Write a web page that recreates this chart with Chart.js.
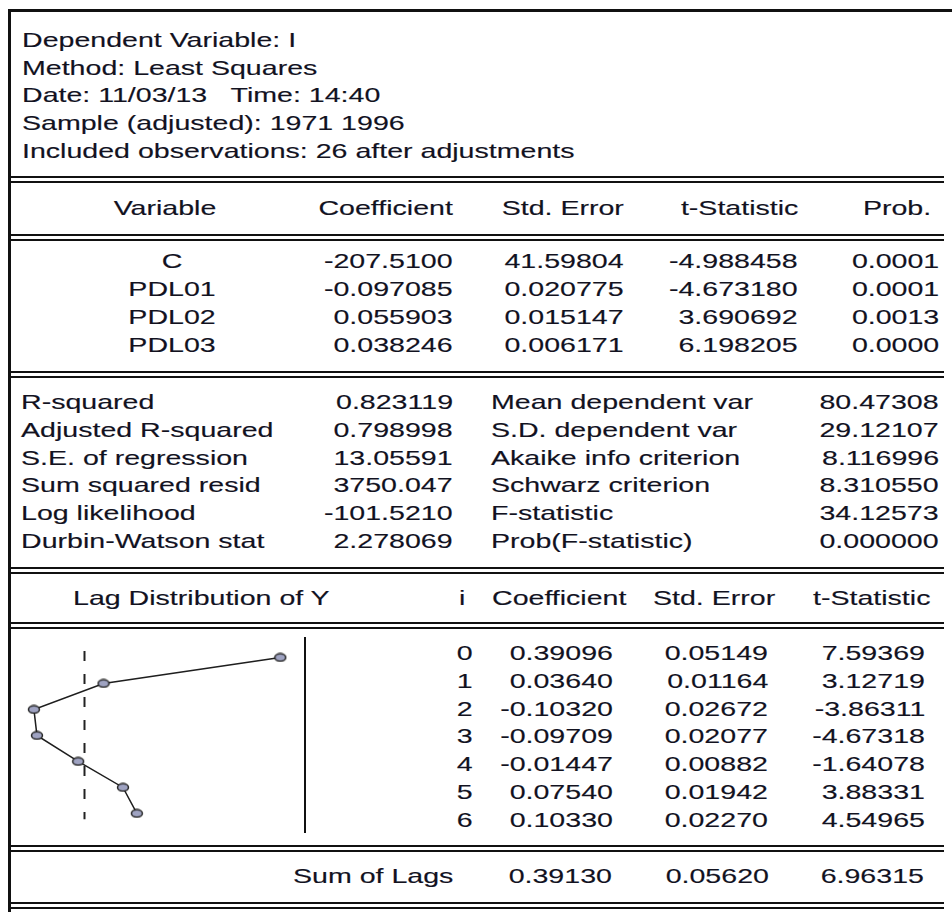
<!DOCTYPE html>
<html>
<head>
<meta charset="utf-8">
<script src="https://cdn.jsdelivr.net/npm/chart.js@4.4.1/dist/chart.umd.min.js"></script>
<style>
  html, body { margin:0; padding:0; background:#fff; }
  #page { position:relative; width:952px; height:912px; overflow:hidden; background:#fff; }
  .t { position:absolute; white-space:pre; font-family:"Liberation Sans", Arial, sans-serif;
       font-size:21px; line-height:24px; color:#12121f; -webkit-text-stroke:0.15px #12121f; }
  #lagChart { position:absolute; }
</style>
</head>
<body>
<div id="page"></div>
<script>
// ---------- DATA ----------
const headerLines = [
  "Dependent Variable: I",
  "Method: Least Squares",
  "Date: 11/03/13   Time: 14:40",
  "Sample (adjusted): 1971 1996",
  "Included observations: 26 after adjustments"
];
const colHeaders = ["Variable", "Coefficient", "Std. Error", "t-Statistic", "Prob."];
const variables = ["C", "PDL01", "PDL02", "PDL03"];
const coefficients = ["-207.5100", "-0.097085", "0.055903", "0.038246"];
const stdErrors = ["41.59804", "0.020775", "0.015147", "0.006171"];
const tStats = ["-4.988458", "-4.673180", "3.690692", "6.198205"];
const probs = ["0.0001", "0.0001", "0.0013", "0.0000"];

const statLabelsLeft = ["R-squared", "Adjusted R-squared", "S.E. of regression", "Sum squared resid", "Log likelihood", "Durbin-Watson stat"];
const statValuesLeft = ["0.823119", "0.798998", "13.05591", "3750.047", "-101.5210", "2.278069"];
const statLabelsRight = ["Mean dependent var", "S.D. dependent var", "Akaike info criterion", "Schwarz criterion", "F-statistic", "Prob(F-statistic)"];
const statValuesRight = ["80.47308", "29.12107", "8.116996", "8.310550", "34.12573", "0.000000"];

const lagTitle = "Lag Distribution of Y";
const lagHeaders = ["i", "Coefficient", "Std. Error", "t-Statistic"];
const lags = [0, 1, 2, 3, 4, 5, 6];
const lagCoef = [0.39096, 0.03640, -0.10320, -0.09709, -0.01447, 0.07540, 0.10330];
const lagSE = [0.05149, 0.01164, 0.02672, 0.02077, 0.00882, 0.01942, 0.02270];
const lagT = [7.59369, 3.12719, -3.86311, -4.67318, -1.64078, 3.88331, 4.54965];
const sumLabel = "Sum of Lags";
const sumValues = [0.39130, 0.05620, 6.96315];

// ---------- LAYOUT HELPERS ----------
const page = document.getElementById('page');
const SX = 1.36;          // horizontal stretch of the reference text
const BASE = 19.3;        // baseline offset inside a text box
function txt(s, x, baseline, align) {
  const d = document.createElement('div');
  d.className = 't';
  d.textContent = s;
  d.style.top = (baseline - BASE) + 'px';
  if (align === 'right') {
    d.style.right = (952 - x) + 'px';
    d.style.transformOrigin = 'right center';
    d.style.transform = 'scaleX(' + SX + ')';
  } else if (align === 'center') {
    d.style.left = x + 'px';
    d.style.transformOrigin = 'center center';
    d.style.transform = 'translateX(-50%) scaleX(' + SX + ')';
  } else {
    d.style.left = x + 'px';
    d.style.transformOrigin = 'left center';
    d.style.transform = 'scaleX(' + SX + ')';
  }
  page.appendChild(d);
}
function box(x, y, w, h) {
  const d = document.createElement('div');
  d.style.cssText = 'position:absolute;background:#111;left:' + x + 'px;top:' + y + 'px;width:' + w + 'px;height:' + h + 'px';
  page.appendChild(d);
}
function dbl(y) { box(10, y, 934, 2); box(10, y + 5, 934, 2); }

// frame
box(8, 9, 944, 3);
box(8, 9, 3, 903);

// header block
const hdrBase = [47, 75, 102, 130, 158];
headerLines.forEach((s, i) => txt(s, 22, hdrBase[i], 'left'));
dbl(176);

// coefficient table
txt(colHeaders[0], 165, 215, 'center');
txt(colHeaders[1], 453, 215, 'right');
txt(colHeaders[2], 624, 215, 'right');
txt(colHeaders[3], 798, 215, 'right');
txt(colHeaders[4], 931, 215, 'right');
dbl(234);
const rowBase = [268, 296, 324, 352];
variables.forEach((v, i) => {
  txt(v, 172, rowBase[i], 'center');
  txt(coefficients[i], 453, rowBase[i], 'right');
  txt(stdErrors[i], 624, rowBase[i], 'right');
  txt(tStats[i], 798, rowBase[i], 'right');
  txt(probs[i], 939, rowBase[i], 'right');
});
dbl(371);

// summary statistics
const statBase = [409, 437, 465, 492, 520, 548];
statLabelsLeft.forEach((s, i) => {
  txt(s, 21, statBase[i], 'left');
  txt(statValuesLeft[i], 453, statBase[i], 'right');
  txt(statLabelsRight[i], 491, statBase[i], 'left');
  txt(statValuesRight[i], 939, statBase[i], 'right');
});
dbl(567);

// lag distribution block
txt(lagTitle, 73, 605, 'left');
txt(lagHeaders[0], 459, 605, 'left');
txt(lagHeaders[1], 492, 605, 'left');
txt(lagHeaders[2], 653, 605, 'left');
txt(lagHeaders[3], 813, 605, 'left');
dbl(622);
const lagBase = [660, 688, 716, 743, 771, 799, 827];
lags.forEach((l, i) => {
  txt(String(l), 473, lagBase[i], 'right');
  txt(lagCoef[i].toFixed(5), 613, lagBase[i], 'right');
  txt(lagSE[i].toFixed(5), 768, lagBase[i], 'right');
  txt(lagT[i].toFixed(5), 925, lagBase[i], 'right');
});
box(304, 637, 2, 196);   // separator between plot and numbers
dbl(845);
txt(sumLabel, 293, 883, 'left');
txt(sumValues[0].toFixed(5), 612, 883, 'right');
txt(sumValues[1].toFixed(5), 769, 883, 'right');
txt(sumValues[2].toFixed(5), 924, 883, 'right');
dbl(902);

// ---------- CHART ----------
const cv = document.createElement('canvas');
cv.id = 'lagChart';
cv.width = 290; cv.height = 200;
cv.style.left = '12px'; cv.style.top = '636px';
cv.style.width = '290px'; cv.style.height = '200px';
page.appendChild(cv);

// elliptical marker like the stretched reference
const mk = document.createElement('canvas');
mk.width = 14; mk.height = 10;
(function () {
  const c = mk.getContext('2d');
  c.beginPath();
  c.ellipse(7, 5, 5.5, 3.8, 0, 0, Math.PI * 2);
  c.fillStyle = '#9fa3c2';
  c.fill();
  c.lineWidth = 1.5;
  c.strokeStyle = '#262626';
  c.stroke();
})();

const zeroLine = {
  id: 'zeroLine',
  beforeDatasetsDraw(chart) {
    const { ctx, scales } = chart;
    const x = Math.round(scales.x.getPixelForValue(0)) - 0.5;
    const y0 = scales.y.getPixelForValue(-0.25);
    const y1 = scales.y.getPixelForValue(6.22);
    ctx.save();
    ctx.strokeStyle = '#222';
    ctx.lineWidth = 2;
    ctx.setLineDash([10, 13]);
    ctx.beginPath();
    ctx.moveTo(x, y0);
    ctx.lineTo(x, y1);
    ctx.stroke();
    ctx.restore();
  }
};

new Chart(cv.getContext('2d'), {
  type: 'scatter',
  data: {
    datasets: [{
      data: lags.map((l, i) => ({ x: lagCoef[i], y: l })),
      showLine: true,
      borderColor: '#1e1e1e',
      borderWidth: 1.5,
      pointStyle: mk,
      pointRadius: 5,
      clip: false,
      tension: 0
    }]
  },
  options: {
    responsive: false,
    animation: false,
    events: [],
    devicePixelRatio: 1,
    layout: { padding: 0 },
    plugins: { legend: { display: false }, tooltip: { enabled: false } },
    scales: {
      x: { type: 'linear', display: false, min: -0.1341, max: 0.4215 },
      y: { type: 'linear', display: false, min: -0.5755, max: 6.6187, reverse: true }
    }
  },
  plugins: [zeroLine]
});
</script>
</body>
</html>
